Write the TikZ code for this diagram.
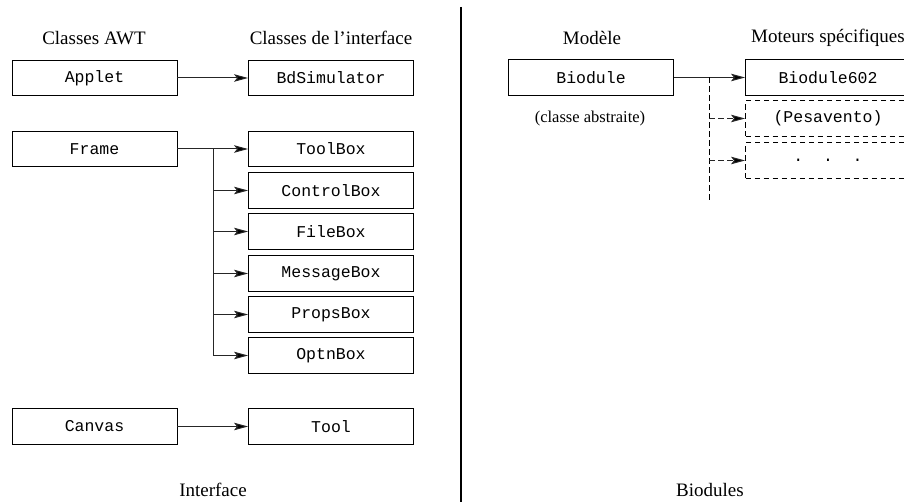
\documentclass[tikz,border=0pt]{standalone}
\usepackage{fontspec}
\setmainfont{Liberation Serif}
\newfontfamily\monofam{Liberation Mono}
\usetikzlibrary{arrows.meta}
\begin{document}
\begin{tikzpicture}[x=1pt,y=-1pt,
  cls/.style={draw, line width=0.9pt, minimum width=165pt, minimum height=35.5pt, inner sep=0pt, font=\monofam\fontsize{16.5}{19}\selectfont},
  dcls/.style={cls, dash pattern=on 5.5pt off 3.5pt},
  lbl/.style={inner sep=0pt, font=\fontsize{19}{22}\selectfont},
  arr/.style={line width=1pt, draw=black!85, -{Stealth[length=14pt,width=7.5pt,inset=3pt,fill=black]}},
  conn/.style={line width=1pt, draw=black!85},
  dconn/.style={line width=1pt, dash pattern=on 5.5pt off 3.5pt}]
\useasboundingbox (0,0) rectangle (904,502);
\clip (0,0) rectangle (904,502);
% headings
\node[lbl] (hawt) at (94,38) {Classes AWT};
\node[lbl] (hint) at (331,38) {Classes de l’interface};
\node[lbl] (hmod) at (592,38) {Modèle};
\node[lbl] (hmot) at (828,38) {Moteurs spécifiques};
\node[lbl] (hinterface) at (213,490) {Interface};
\node[lbl] (hbiod) at (710,490) {Biodules};
\node[lbl, font=\fontsize{16.5}{19}\selectfont] (abs) at (590,119) {(classe abstraite)};
% divider
\draw[line width=2.5pt] (461,7) -- (461,502);
% left boxes
\node[cls] (applet) at (94.5,78) {Applet};
\node[cls] (bdsim) at (331,78) {BdSimulator};
\node[cls] (frame) at (94.5,149) {Frame};
\node[cls] (toolbox) at (331,149) {ToolBox};
\node[cls] (controlbox) at (331,190.5) {ControlBox};
\node[cls] (filebox) at (331,231.5) {FileBox};
\node[cls] (messagebox) at (331,273.5) {MessageBox};
\node[cls] (propsbox) at (331,314.5) {PropsBox};
\node[cls] (optnbox) at (331,355.5) {OptnBox};
\node[cls] (canvas) at (94.5,426.5) {Canvas};
\node[cls] (tool) at (331,426.5) {Tool};
% right boxes
\node[cls] (biodule) at (591,77.5) {Biodule};
\node[cls] (biodule602) at (828,77.5) {Biodule602};
\node[dcls] (pesa) at (828,118.5) {(Pesavento)};
\node[dcls] (dots) at (828,160.5) {.\hspace{1.2em}.\hspace{1.2em}.};
% left connectors
\draw[arr] (applet) -- (bdsim);
\draw[arr] (frame) -- (toolbox);
\coordinate (br) at (213,149);
\draw[conn] (br) -- (br |- optnbox.west);
\draw[arr] (br |- controlbox.west) -- (controlbox.west);
\draw[arr] (br |- filebox.west) -- (filebox.west);
\draw[arr] (br |- messagebox.west) -- (messagebox.west);
\draw[arr] (br |- propsbox.west) -- (propsbox.west);
\draw[arr] (br |- optnbox.west) -- (optnbox.west);
\draw[arr] (canvas) -- (tool);
% right connectors
\draw[arr] (biodule) -- (biodule602);
\coordinate (vtop) at (709,77.5);
\coordinate (vbot) at (709,203);
\draw[dconn] (vtop) -- (vbot);
\draw[arr, dash pattern=on 5.5pt off 3.5pt] (vtop |- pesa.west) -- (pesa.west);
\draw[arr, dash pattern=on 5.5pt off 3.5pt] (vtop |- dots.west) -- (dots.west);
\end{tikzpicture}
\end{document}
